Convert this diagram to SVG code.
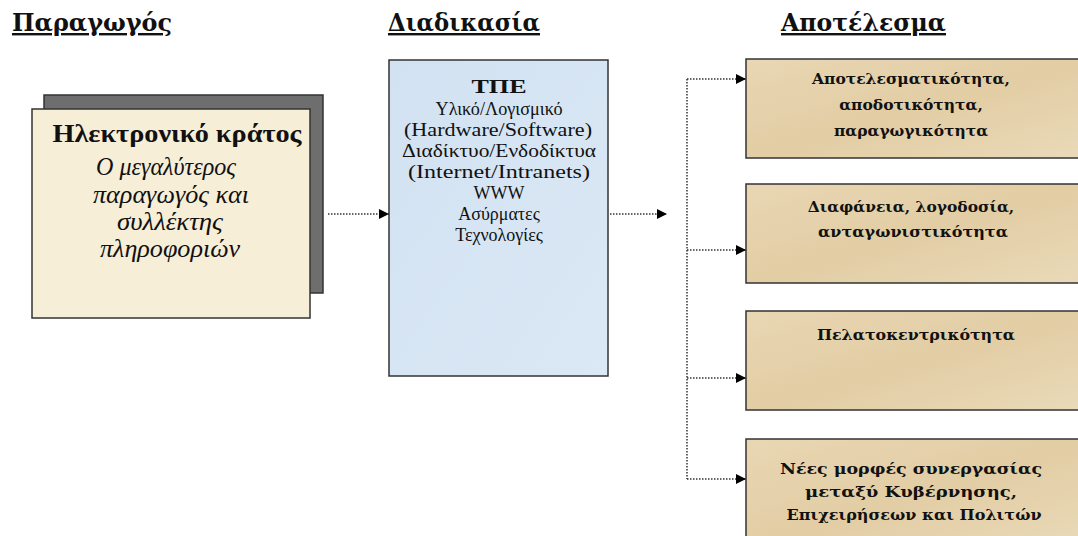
<svg xmlns="http://www.w3.org/2000/svg" width="1078" height="536" viewBox="0 0 1078 536">
<style>
.head{font-family:"DejaVu Serif","Liberation Serif",serif;font-weight:bold;font-size:24px;fill:#111;text-decoration:underline}
.res{font-family:"DejaVu Serif","Liberation Serif",serif;font-weight:bold;font-size:15.5px;fill:#111;text-anchor:middle}
.mid{font-family:"Liberation Serif",serif;font-size:18px;fill:#111;text-anchor:middle}
.left{font-family:"Liberation Serif",serif;font-size:25px;fill:#111;text-anchor:middle}
.rbox{stroke:#333;stroke-width:1.5}
.conn{fill:none;stroke:#333;stroke-width:1.5;stroke-dasharray:1.5 1.5}
</style>
<defs>
<marker id="arr" viewBox="0 0 10 10" refX="10" refY="5" markerWidth="10" markerHeight="10" markerUnits="userSpaceOnUse" orient="auto">
<path d="M0,0 L10,5 L0,10 Z" fill="#000"/>
</marker>
<linearGradient id="tan" x1="0" y1="0" x2="1" y2="1">
<stop offset="0" stop-color="#e9d7b4"/>
<stop offset="0.5" stop-color="#e2cda4"/>
<stop offset="1" stop-color="#eadab9"/>
</linearGradient>
<linearGradient id="blue" x1="0" y1="0" x2="1" y2="1">
<stop offset="0" stop-color="#d2e2f2"/>
<stop offset="1" stop-color="#dbe8f5"/>
</linearGradient>
</defs>
<rect width="1078" height="536" fill="#fff"/>

<g id="headings">
<text class="head" x="12" y="31" textLength="160" lengthAdjust="spacingAndGlyphs">Παραγωγός</text>
<text class="head" x="388" y="31" textLength="152" lengthAdjust="spacingAndGlyphs">Διαδικασία</text>
<text class="head" x="781" y="31" textLength="165" lengthAdjust="spacingAndGlyphs">Αποτέλεσμα</text>
</g>

<g id="producer">
<rect x="44" y="95" width="279" height="198" fill="#6e6e6e" stroke="#333" stroke-width="1.5"/>
<rect x="32" y="109" width="278" height="209" fill="#f7eed8" stroke="#333" stroke-width="1.5"/>
<text class="left" x="177" y="142" font-weight="bold" textLength="249" lengthAdjust="spacingAndGlyphs">Ηλεκτρονικό κράτος</text>
<text class="left" x="166" y="175" font-style="italic" textLength="140" lengthAdjust="spacingAndGlyphs">Ο μεγαλύτερος</text>
<text class="left" x="171" y="203" font-style="italic" textLength="156" lengthAdjust="spacingAndGlyphs">παραγωγός και</text>
<text class="left" x="170" y="230" font-style="italic" textLength="106" lengthAdjust="spacingAndGlyphs">συλλέκτης</text>
<text class="left" x="170" y="257" font-style="italic" textLength="140" lengthAdjust="spacingAndGlyphs">πληροφοριών</text>
</g>

<g id="process">
<rect x="389" y="60" width="219" height="316" fill="url(#blue)" stroke="#333" stroke-width="1.5"/>
<text class="mid" x="499" y="93" font-weight="bold" font-size="23" textLength="55" lengthAdjust="spacingAndGlyphs">ΤΠΕ</text>
<text class="mid" x="499" y="115" textLength="127" lengthAdjust="spacingAndGlyphs">Υλικό/Λογισμικό</text>
<text class="mid" x="498" y="136" textLength="188" lengthAdjust="spacingAndGlyphs">(Hardware/Software)</text>
<text class="mid" x="499" y="157" textLength="194" lengthAdjust="spacingAndGlyphs">Διαδίκτυο/Ενδοδίκτυα</text>
<text class="mid" x="499" y="178" textLength="182" lengthAdjust="spacingAndGlyphs">(Internet/Intranets)</text>
<text class="mid" x="499" y="199">WWW</text>
<text class="mid" x="499" y="220">Ασύρματες</text>
<text class="mid" x="499" y="241">Τεχνολογίες</text>
</g>

<g id="result1">
<rect class="rbox" x="746" y="59" width="340" height="99" fill="url(#tan)"/>
<text class="res" x="911" y="84">Αποτελεσματικότητα,</text>
<text class="res" x="911" y="110">αποδοτικότητα,</text>
<text class="res" x="911" y="136">παραγωγικότητα</text>
</g>

<g id="result2">
<rect class="rbox" x="746" y="184" width="340" height="99" fill="url(#tan)"/>
<text class="res" x="911" y="212">Διαφάνεια, λογοδοσία,</text>
<text class="res" x="913" y="237" textLength="190" lengthAdjust="spacingAndGlyphs">ανταγωνιστικότητα</text>
</g>

<g id="result3">
<rect class="rbox" x="746" y="311" width="340" height="99" fill="url(#tan)"/>
<text class="res" x="916" y="340" textLength="198" lengthAdjust="spacingAndGlyphs">Πελατοκεντρικότητα</text>
</g>

<g id="result4">
<rect class="rbox" x="746" y="439" width="340" height="110" fill="url(#tan)"/>
<text class="res" x="911" y="474" font-size="17.5" textLength="262" lengthAdjust="spacingAndGlyphs">Νέες μορφές συνεργασίας</text>
<text class="res" x="911" y="497" font-size="17.5" textLength="212" lengthAdjust="spacingAndGlyphs">μεταξύ Κυβέρνησης,</text>
<text class="res" x="914" y="520" font-size="17.5" textLength="255" lengthAdjust="spacingAndGlyphs">Επιχειρήσεων και Πολιτών</text>
</g>

<g id="connectors">
<line class="conn" x1="328" y1="214" x2="389" y2="214" marker-end="url(#arr)"/>
<line class="conn" x1="610" y1="214" x2="667" y2="214" marker-end="url(#arr)"/>
<line class="conn" x1="687" y1="79" x2="687" y2="479"/>
<line class="conn" x1="687" y1="79" x2="746" y2="79" marker-end="url(#arr)"/>
<line class="conn" x1="687" y1="250" x2="746" y2="250" marker-end="url(#arr)"/>
<line class="conn" x1="687" y1="378" x2="746" y2="378" marker-end="url(#arr)"/>
<line class="conn" x1="687" y1="479" x2="746" y2="479" marker-end="url(#arr)"/>
</g>
</svg>
